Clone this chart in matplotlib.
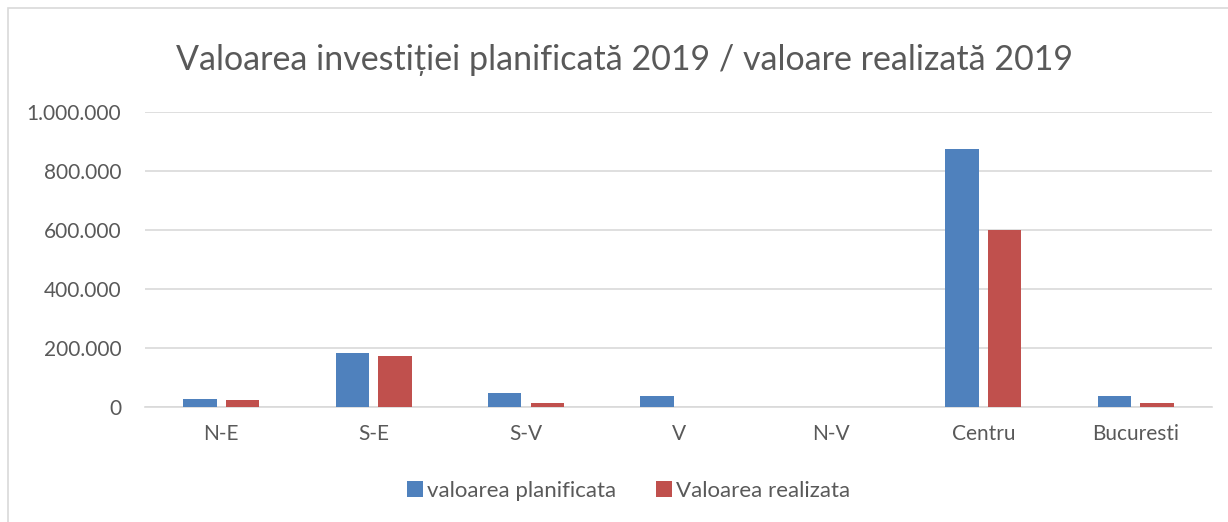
import matplotlib.pyplot as plt
import numpy as np
from matplotlib.ticker import FuncFormatter

# Data
regions = ["N-E", "S-E", "S-V", "V", "N-V", "Centru", "Bucuresti"]
planned = [26000, 183000, 49000, 36000, 0, 873000, 38000]
realized = [22500, 172000, 12000, 0, 0, 600000, 12000]
series_names = ["valoarea planificata", "Valoarea realizata"]
yticks = [0, 200000, 400000, 600000, 800000, 1000000]

plt.rcParams['font.family'] = ['Lato', 'DejaVu Sans']
text_col = "#595959"

fig = plt.figure(figsize=(12.28, 5.22), dpi=100)
ax = fig.add_axes([145 / 1228, 1 - 407 / 522, (1212 - 145) / 1228, (407 - 112) / 522])

x = np.arange(len(regions))
ax.bar(x - 0.14, planned, width=0.22, color="#4F81BD", label=series_names[0], zorder=3)
ax.bar(x + 0.14, realized, width=0.22, color="#C0504D", label=series_names[1], zorder=3)

ax.set_xlim(-0.5, len(regions) - 0.5)
ax.set_ylim(0, 1000000)
ax.set_yticks(yticks)
ax.yaxis.set_major_formatter(FuncFormatter(lambda v, p: f"{int(v):,}".replace(",", ".")))
ax.set_xticks(x)
ax.set_xticklabels(regions)
ax.grid(axis="y", color="#D9D9D9", linewidth=1.2, zorder=0)
for s in ["top", "right", "left"]:
    ax.spines[s].set_visible(False)
ax.spines["bottom"].set_color("#D9D9D9")
ax.spines["bottom"].set_linewidth(1.2)
ax.tick_params(axis="both", length=0, labelsize=15, colors=text_col, pad=12)
ax.tick_params(axis="y", pad=17)

fig.text(625 / 1228, 1 - 60 / 522, "Valoarea investiției planificată 2019 / valoare realizată 2019",
         ha="center", va="center", fontsize=24.5, color=text_col)

fig.legend(loc="center", bbox_to_anchor=(0.512, 1 - 491 / 522), ncol=2, frameon=False,
           fontsize=16, labelcolor=text_col, handlelength=0.7, handleheight=0.7,
           handletextpad=0.2, columnspacing=1.8)

# chart border
fig.patches.append(plt.Rectangle((8 / 1228, -0.01), 1.02, 1 - 8 / 522 + 0.01, transform=fig.transFigure,
                                 fill=False, edgecolor="#D9D9D9", linewidth=1.2))

fig.savefig("out.png", dpi=100)
